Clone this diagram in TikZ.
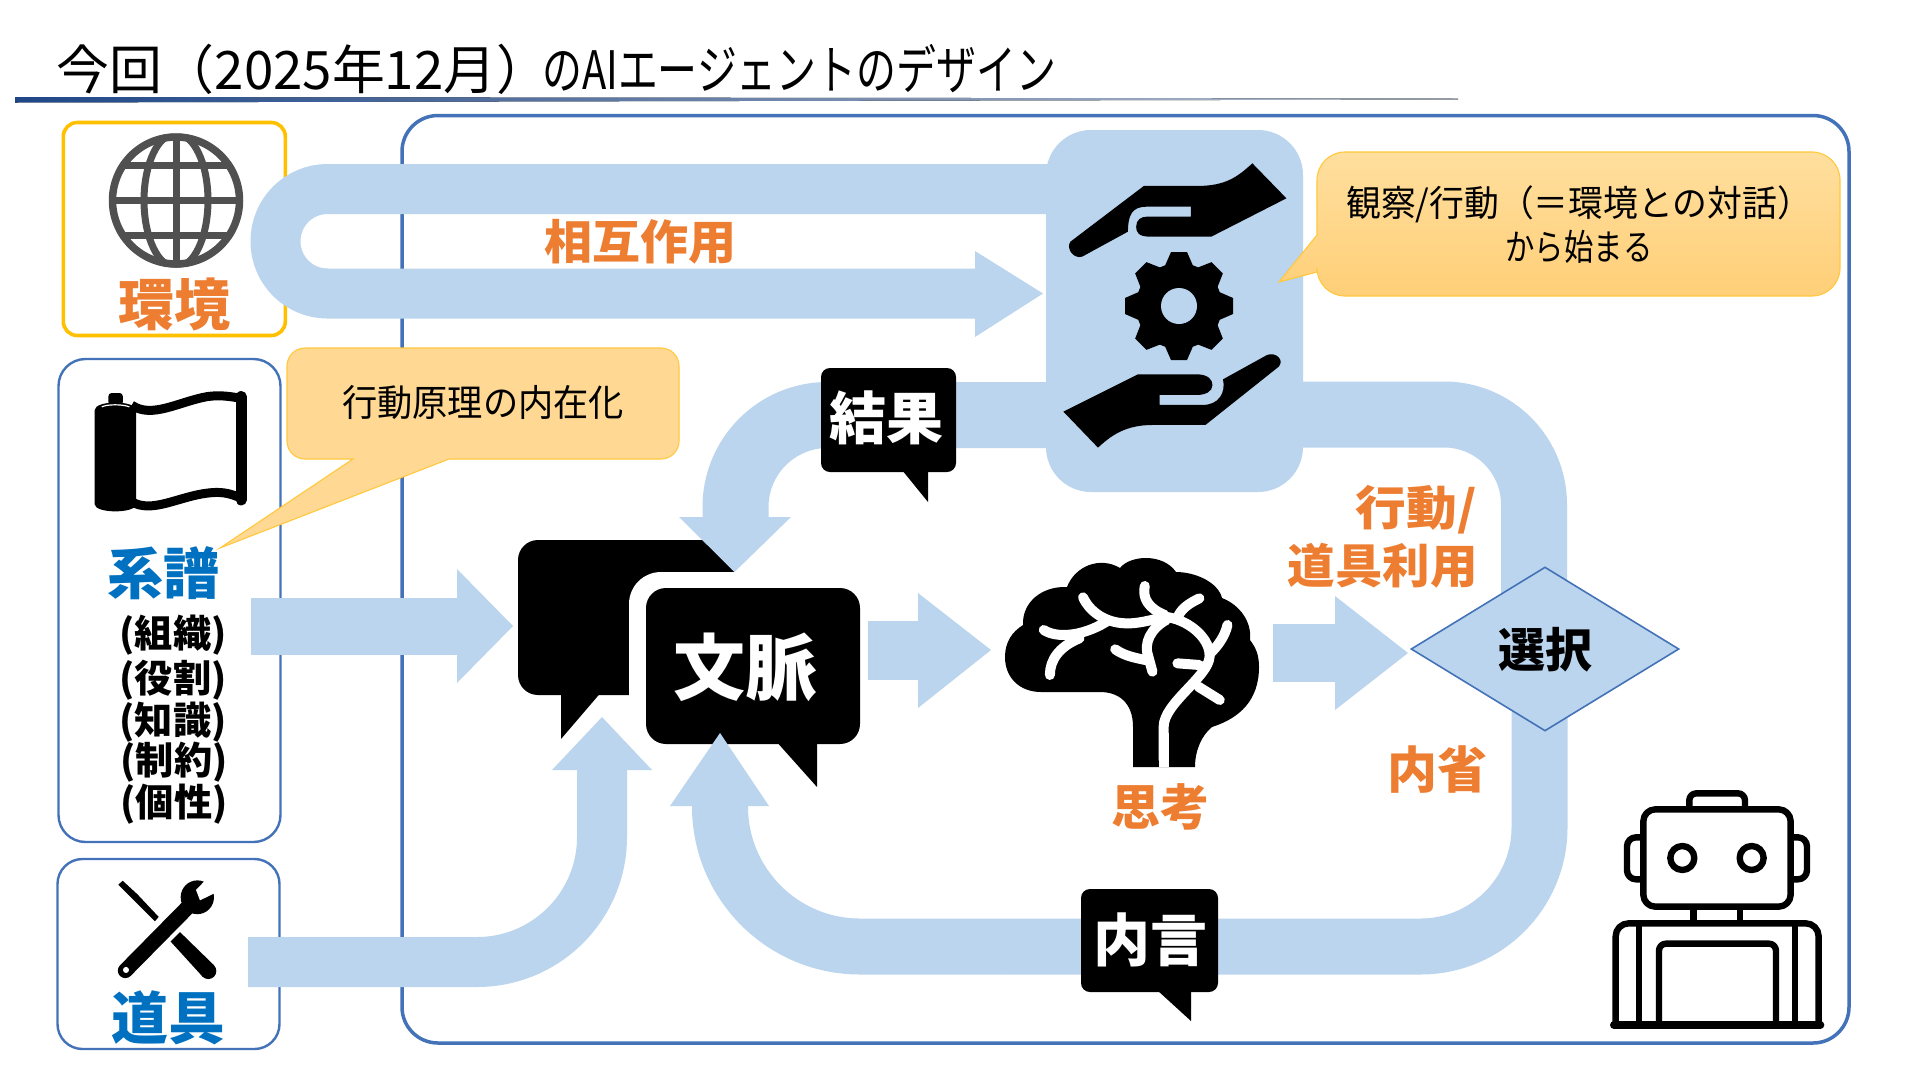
\documentclass[tikz,border=0pt]{standalone}
\usepackage{fontspec}
\usepackage{graphicx}
\usetikzlibrary{shapes.geometric}
\setmainfont{Noto Sans CJK JP}
\definecolor{bandc}{HTML}{BBD5EE}
\definecolor{framec}{HTML}{4472B8}
\definecolor{orangec}{HTML}{ED7D31}
\definecolor{bluec}{HTML}{0070C0}
\definecolor{yellowc}{HTML}{FFC000}
\definecolor{calloutc}{HTML}{FFD993}
\definecolor{calloutl}{HTML}{FFC83D}
\definecolor{globec}{HTML}{505050}
\definecolor{linea}{HTML}{1F4788}
\definecolor{lineb}{HTML}{17396F}
\definecolor{linec}{HTML}{B8C0CC}
\definecolor{cotop}{HTML}{FFDF9E}
\definecolor{cobot}{HTML}{FFCF78}
\newcommand\fw[2]{\resizebox{#1pt}{\height}{#2}}
\tikzset{
  x=1pt,y=-1pt,
  framebox/.style={draw=framec,fill=white,inner sep=0pt,line width=2.4pt,rounded corners=#1},
  band/.style={draw=bandc,line width=#1},
  bandhead/.style={fill=bandc},
  lbl/.style={inner sep=0pt,font=\bfseries\fontsize{#1}{#1}\selectfont},
  plain/.style={inner sep=0pt,font=\fontsize{#1}{#1}\selectfont},
  bubble/.style={fill=black,rounded corners=9pt,inner sep=0pt},
  callout/.style={draw=calloutl,line width=1.1pt},
  vein/.style={draw=white,line width=10pt,line cap=round,line join=round},
  robo/.style={draw=black,line width=6.4pt,line join=round},
}
\begin{document}
\begin{tikzpicture}
\useasboundingbox (0,0) rectangle (1920,1080);
\fill[white] (0,0) rectangle (1920,1080);
% title
\node[plain=53pt,anchor=base west,text=black] (title) at (56,89) {\fw{493}{今回（2025年12月）}\hspace{-7pt}\fw{514}{のAIエージェントのデザイン}};
\fill[left color=linea,middle color=lineb,right color=linec] (15,97) -- (15,102.5) -- (1458,99.5) -- (1458,98.5) -- cycle;
% main frame
\node[framebox=36pt,minimum width=1447pt,minimum height=927.5pt,line width=3.5pt] (frame) at (1125.5,579.25) {};
% side boxes
\node[draw=yellowc,fill=white,line width=3.6pt,rounded corners=14pt,inner sep=0pt,minimum width=222pt,minimum height=213pt] (envbox) at (174.3,229) {};
\node[framebox=27pt,minimum width=222pt,minimum height=483pt] (genbox) at (169.5,600.5) {};
\node[framebox=25pt,minimum width=222pt,minimum height=190pt] (toolbox) at (168.5,954) {};
% context bubbles (back, white halo, front)
\node[bubble,rounded corners=20pt,minimum width=216pt,minimum height=155pt] (ctxback) at (626,617.5) {};
\fill (561,690) -- (561,739) -- (603,690) -- cycle;
\node[fill=white,rounded corners=32pt,inner sep=0pt,minimum width=250pt,minimum height=200pt] (ctxhalo) at (754,672) {};
\node[bubble,rounded corners=20pt,minimum width=214pt,minimum height=156pt] (ctx) at (753,666) {};
\fill (775,740) -- (817,787) -- (817,740) -- cycle;
% coordinates of the block arrows
\coordinate (hL1) at (1100,189);
\coordinate (hL2) at (1100,293.5);
% interaction U-turn
\draw[band=50pt,rounded corners=52pt] (hL1) -- (275.5,189) -- (275.5,293.5) -- (976,293.5);
\fill[bandhead] (975,251) -- (1043,293.5) -- (975,337) -- cycle;
% result arrow
\draw[band=66pt,rounded corners=92pt] (1100,415) -- (735.5,415) -- (735.5,518);
\fill[bandhead] (679,517) -- (791,517) -- (734.5,572) -- cycle;
% action arrow band
\draw[band=66pt,rounded corners=90pt] (1250,414.5) -- (1534,414.5) -- (1534,620);
% inner speech band
\draw[band=56pt,rounded corners=119pt] (1539.5,700) -- (1539.5,946.5) -- (1000,946.5);
\draw[band=56pt,rounded corners=140pt] (1000,946.5) -- (720,946.5) -- (720,805);
\fill[bandhead] (670,806) -- (769,806) -- (720,733) -- cycle;
% genealogy to context
\fill[bandhead] (251,597.5) rectangle (458,655);
\fill[bandhead] (457,569) -- (513,626) -- (457,683) -- cycle;
% tools to context
\draw[band=50pt,rounded corners=125pt] (248,962) -- (602,962) -- (602,769);
\fill[bandhead] (552,770) -- (652,770) -- (602,717) -- cycle;
% context to thinking
\fill[bandhead] (868,621) rectangle (919,680);
\fill[bandhead] (918,593) -- (991,650) -- (918,708) -- cycle;
% thinking to choice
\fill[bandhead] (1273,624) rectangle (1336,682);
\fill[bandhead] (1335,596) -- (1408,653) -- (1335,710) -- cycle;
% hands box
\node[fill=bandc,rounded corners=45pt,inner sep=0pt,minimum width=257pt,minimum height=362pt] (hands) at (1174.5,311) {};
% hands
\begin{scope}[shift={(1000pt,-100pt)},x=0.5869pt,y=-0.3333pt]
\fill (430,190) -- (488,295) -- (360,410) -- (255,410) .. controls (235,410) and (232,395) .. (232,380) .. controls (232,360) and (240,350) .. (250,350) -- (325,350) -- (325,320) -- (250,320) .. controls (225,320) and (218,345) .. (218,395) -- (140,470) .. controls (125,478) and (112,445) .. (120,425) -- (245,258) -- (335,258) .. controls (385,258) and (405,230) .. (430,190) -- cycle;
\fill (167,1043) -- (108,935) -- (235,823) -- (335,823) .. controls (355,823) and (362,840) .. (362,855) .. controls (362,875) and (350,885) .. (335,885) -- (272,885) -- (272,915) -- (345,915) .. controls (372,915) and (385,880) .. (380,838) -- (455,765) .. controls (470,755) and (485,780) .. (475,800) -- (350,975) -- (260,975) .. controls (215,975) and (190,1005) .. (167,1043) -- cycle;
\end{scope}
% gear
\begin{scope}[shift={(1179pt,-306pt)}]
\foreach \a in {0,45,...,315}{\fill[rotate=\a] (-15,-38) -- (-8,-54) -- (8,-54) -- (15,-38) -- cycle;}
\fill (0,0) circle[radius=43];
\fill[bandc] (0,0) circle[radius=18];
\end{scope}
% small speech bubbles
\node[bubble,minimum width=135pt,minimum height=104pt] (result) at (888.5,420) {};
\fill (902,470) -- (928,502) -- (928,470) -- cycle;
\node[bubble,minimum width=137pt,minimum height=103pt] (inner) at (1149.5,940.5) {};
\fill (1157,990) -- (1191,1021) -- (1191,990) -- cycle;
% choice
\node[diamond,draw=framec,fill=bandc,line width=1.6pt,inner sep=0pt,minimum width=268pt,minimum height=164pt,aspect=1.63] (choice) at (1545,649) {};
% callouts
\draw[callout,fill=calloutc] (400,348) [rounded corners=18pt] -- (679,348) -- (679,459) [sharp corners] -- (449,459) -- (220,548) -- (353,459) [rounded corners=18pt] -- (287,459) -- (287,348) -- cycle;
\draw[callout,top color=cotop,bottom color=cobot] (1500,152) [rounded corners=28pt] -- (1840,152) -- (1840,296) -- (1317,296) [sharp corners] -- (1317,272) -- (1279,282) -- (1317,235) [rounded corners=28pt] -- (1317,152) -- cycle;
% globe
\begin{scope}[shift={(176pt,-200.5pt)}]
\begin{scope}
\clip (0,0) circle[radius=67];
\draw[globec,line width=7pt] (0,0) ellipse[x radius=32,y radius=67];
\draw[globec,line width=7pt] (0,-67) -- (0,67) (-67,0) -- (67,0) (-67,-35) -- (67,-35) (-67,35) -- (67,35);
\end{scope}
\draw[globec,line width=7.5pt] (0,0) circle[radius=63.5];
\end{scope}
% film icon
\begin{scope}[shift={(0pt,0pt)},x=0.4464pt,y=-0.3448pt]
\fill[rounded corners=3pt] (243,1140) rectangle (275,1175);
\fill (212,1190) .. controls (212,1160) and (305,1160) .. (305,1190) -- (305,1462) .. controls (305,1490) and (212,1490) .. (212,1462) -- cycle;
\draw[white,line width=1.2pt] (228,1180) .. controls (240,1172) and (275,1172) .. (290,1180);
\draw[line width=9pt] (295,1175) .. controls (340,1215) and (400,1165) .. (465,1150) .. controls (495,1145) and (515,1150) .. (540,1155);
\draw[line width=9pt] (295,1455) .. controls (340,1490) and (400,1440) .. (465,1430) .. controls (495,1425) and (515,1430) .. (540,1445);
\draw[line width=11pt,line cap=round] (540,1150) -- (540,1450);
\end{scope}
% tools icon
\begin{scope}[shift={(40pt,-540pt)},x=0.3333pt,y=-0.338pt]
\fill (235,1020) -- (248,1008) -- (292,1048) -- (356,1115) -- (345,1128) -- (278,1062) -- cycle;
\fill (420,1160) -- (392,1188) -- (488,1292) -- (522,1258) -- cycle;
\fill (505,1275) circle[radius=24];
\draw[line width=15pt,line cap=round] (256,1274) -- (440,1090);
\fill (472,1057) circle[radius=50];
\fill[white] (500,1003) -- (468,1035) -- (480,1066) -- (530,1042) -- (550,1000) -- cycle;
\fill[white] (258,1272) circle[radius=9];
\end{scope}
% brain
\fill (1133,767) -- (1133,727) .. controls (1133,702) and (1118,692) .. (1100,692) -- (1041,692) .. controls (1020,692) and (1005,678) .. (1005,657) .. controls (1005,642) and (1012,632) .. (1023,625) .. controls (1022,602) and (1042,586) .. (1067,587) .. controls (1075,566) and (1100,556) .. (1120,568) .. controls (1130,555) and (1163,553) .. (1176,572) .. controls (1195,572) and (1218,582) .. (1222,598) .. controls (1240,605) and (1252,622) .. (1250,640) .. controls (1256,648) and (1259,655) .. (1259,667) .. controls (1259,700) and (1240,718) .. (1212,727) .. controls (1202,735) and (1195,750) .. (1195,767) -- cycle;
\begin{scope}[shift={(480pt,-500pt)},x=0.5102pt,y=-0.3333pt]
\draw[vein] (1182,292) .. controls (1195,335) and (1225,368) .. (1265,370) .. controls (1300,372) and (1330,350) .. (1350,352) .. controls (1395,365) and (1432,420) .. (1430,470) .. controls (1428,530) and (1340,610) .. (1340,680) -- (1340,780);
\draw[vein,line cap=butt] (1340,700) -- (1340,802);
\draw[vein] (1105,390) .. controls (1130,415) and (1180,410) .. (1228,365);
\draw[vein] (1117,525) .. controls (1117,480) and (1135,440) .. (1175,415);
\draw[vein] (1303,258) .. controls (1298,295) and (1310,325) .. (1342,345);
\draw[vein] (1410,295) .. controls (1390,310) and (1375,325) .. (1368,350);
\draw[vein] (1465,375) .. controls (1460,410) and (1445,440) .. (1430,462);
\draw[vein] (1345,360) .. controls (1315,385) and (1300,430) .. (1310,470) -- (1318,515);
\draw[vein] (1245,448) .. controls (1265,470) and (1290,475) .. (1310,482);
\draw[vein] (1367,490) -- (1410,495);
\draw[vein] (1408,560) -- (1450,600);
\end{scope}
% robot
\begin{scope}[shift={(1560pt,-760pt)},x=0.3333pt,y=-0.3333pt]
\draw[robo,rounded corners=7pt] (388,140) -- (388,100) -- (555,100) -- (555,140);
\draw[robo,rounded corners=12pt] (250,148) rectangle (692,440);
\draw[robo,rounded corners=9pt] (250,232) -- (201,232) -- (201,358) -- (250,358);
\draw[robo,rounded corners=9pt] (692,232) -- (741,232) -- (741,358) -- (692,358);
\draw[robo] (367,294) circle[radius=36];
\draw[robo] (575,294) circle[radius=36];
\draw[robo] (400,445) -- (400,490) (540,445) -- (540,490);
\draw[robo,rounded corners=13pt] (167,795) -- (167,490) -- (776,490) -- (776,795);
\draw[robo] (237,490) -- (237,795) (705,490) -- (705,795);
\draw[robo,rounded corners=7pt] (297,795) -- (297,551) -- (648,551) -- (648,795);
\draw[black,line width=8pt,line cap=round] (162,795) -- (781,795);
\end{scope}
% labels
\node[lbl=56pt,text=orangec] (envlbl) at (174,304) {環境};
\node[lbl=56pt,text=bluec] (genlbl) at (163,573) {系譜};
\node[lbl=38pt] (g1) at (173,635) {\fw{107}{(組織)}};
\node[lbl=38pt] (g2) at (173,680) {\fw{107}{(役割)}};
\node[lbl=38pt] (g3) at (173,722) {\fw{107}{(知識)}};
\node[lbl=38pt] (g4) at (174,762) {\fw{107}{(制約)}};
\node[lbl=38pt] (g5) at (174,804) {\fw{107}{(個性)}};
\node[lbl=57pt,text=bluec] (toollbl) at (168,1018) {道具};
\node[lbl=47pt,text=orangec] (interact) at (640,242) {\fw{192}{相互作用}};
\node[lbl=47pt,text=orangec,anchor=east] (act1) at (1477,510) {\fw{121}{行動/}};
\node[lbl=47pt,text=orangec,anchor=east] (act2) at (1478,566) {\fw{190}{道具利用}};
\node[lbl=50pt,text=orangec] (introspect) at (1437,770) {内省};
\node[lbl=49pt,text=orangec] (think) at (1160,807) {思考};
\node[lbl=72pt,text=white] (ctxlbl) at (745,667) {文脈};
\node[lbl=57pt,text=white] (reslbl) at (886,418) {結果};
\node[lbl=57pt,text=white] (innlbl) at (1150,940) {内言};
\node[lbl=47pt] (chlbl) at (1545,650) {選択};
\node[plain=37pt] (c1) at (483,403) {\fw{282}{行動原理の内在化}};
\node[plain=36pt,anchor=west] (c2) at (1346,204) {\fw{466}{観察/行動（＝環境との対話）}};
\node[plain=36pt] (c3) at (1579,247) {\fw{147}{から始まる}};
\end{tikzpicture}
\end{document}
